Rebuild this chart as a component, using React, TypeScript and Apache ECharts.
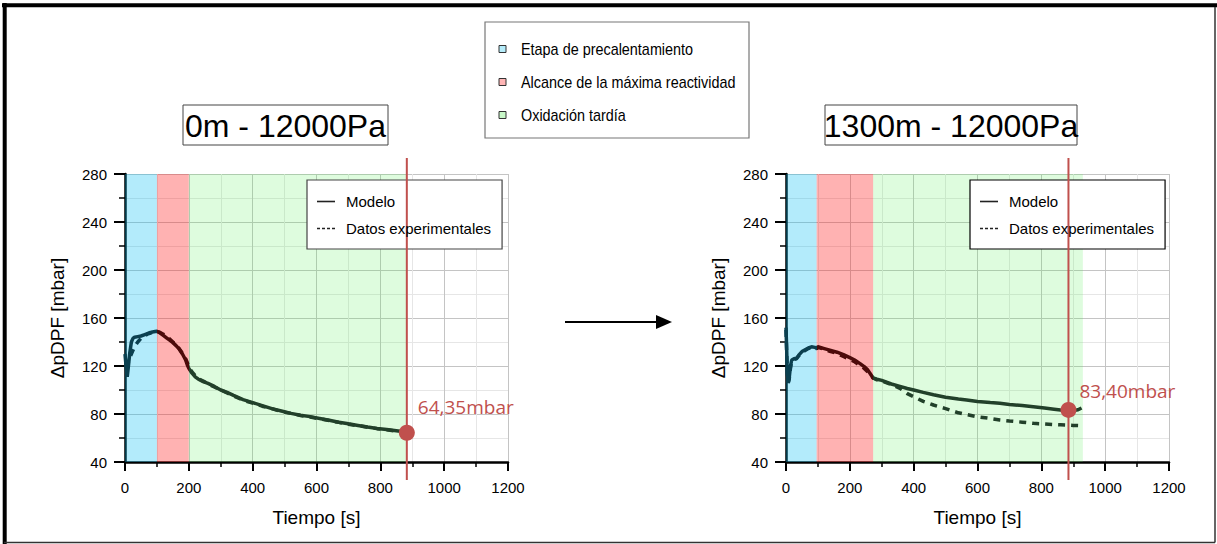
import React, { useEffect, useRef } from 'react';
import * as echarts from 'echarts';

// ---------- data ----------
const phaseNames = ['Etapa de precalentamiento', 'Alcance de la máxima reactividad', 'Oxidación tardía'];
const phaseColors = ['rgba(2,188,242,0.30)', 'rgba(255,30,30,0.34)', 'rgba(90,240,90,0.20)'];
const phaseIconColors = ['#b5ecfa', '#ffb5b5', '#c8f8c8'];

const chartTitles = ['0m - 12000Pa', '1300m - 12000Pa'];
const seriesNames = ['Modelo', 'Datos experimentales'];

const leftPhases = [[0, 100], [100, 200], [200, 883]];
const rightPhases = [[0, 96], [96, 273], [273, 930]];

const leftTime = [0, 4, 7, 10, 15, 20, 25, 30, 40, 50, 60, 70, 80, 90, 100, 110, 120, 130, 140, 150, 160, 170, 180, 190, 195, 200, 210, 220, 230, 245, 260, 280, 300, 320, 340, 370, 400, 430, 460, 490, 520, 550, 580, 610, 640, 670, 700, 730, 760, 790, 820, 850, 880];
const leftModel = [130, 118, 111, 118, 131, 140, 143, 144, 144.5, 145, 146, 147, 148, 148.5, 149, 147.5, 145.5, 143.5, 141.5, 139.5, 137, 134, 130, 125, 121, 118, 114, 111, 109, 107, 105.5, 103, 100, 98, 95.5, 92, 89.5, 87, 84.5, 82.5, 80.5, 79, 77.8, 76.3, 74.8, 73.2, 71.8, 70.5, 69.2, 68, 67, 66, 65];
const leftExp = [121, 120, 121, 123, 127, 130, 133, 136, 140, 143, 145, 146.5, 147.5, 148.5, 149, 148, 146.5, 144.5, 142.5, 140, 137.5, 134.5, 130.5, 126, 123, 119, 115, 112, 109.5, 107.5, 105, 102.5, 100, 97.5, 95, 91.5, 89, 86.5, 84.5, 82, 80.5, 78.8, 77.5, 76, 74.5, 73, 71.5, 70.3, 69, 67.8, 66.8, 65.8, 64.5];

const rightTime = [0, 2, 4, 7, 10, 14, 18, 25, 33, 40, 50, 60, 70, 80, 90, 96, 100, 120, 140, 160, 180, 200, 215, 232, 245, 255, 263, 273, 285, 300, 330, 357, 380, 400, 430, 462, 500, 540, 566, 600, 640, 670, 700, 740, 775, 810, 840, 860, 880, 900, 915, 926];
const rightModel = [152, 135, 115, 106, 110, 120, 125, 126, 126.5, 129, 132, 133.5, 135, 136, 135.5, 135, 136, 134.5, 133, 131.5, 129.5, 127, 125, 122, 119.5, 117, 114, 110, 109, 108, 105, 103, 101.3, 100, 98, 96, 94, 92.5, 91.7, 90.5, 89.5, 88.9, 88, 87, 86, 85, 84, 83.3, 83, 82.8, 83.5, 85];
const rightExp = [150, 132, 114, 106, 109, 118, 124, 125.5, 126, 128.5, 131.5, 133, 134.5, 135.5, 135, 134.5, 135.5, 134, 132, 130.5, 128, 125.5, 123.5, 120.5, 118, 115.5, 113, 110, 108.5, 107.5, 104.5, 101.4, 97, 94.4, 90.5, 87.5, 84.5, 81, 79.5, 77.7, 76.3, 75, 74.2, 73.2, 72.2, 71.7, 71.2, 71, 70.8, 70.5, 70.4, 70.3];

const markers = [
  { t: 883, v: 64.35, label: '64,35mbar', offset: [-2, -26] },
  { t: 885, v: 83.4, label: '83,40mbar', offset: [-2, -19] },
];

const xMin = 0, xMax = 1200, xStep = 200;
const yMin = 40, yMax = 280, yStep = 40;

// ---------- styling ----------
const FONT = 'Liberation Sans, Arial, sans-serif';
const LABEL_FONT = 'Open Sans, sans-serif';
const RED = '#c0504d';
const curveColors = ['#0b4050', '#4d0a0a', '#22402a'];
const SOLID_ICON = 'path://M0,0H18V1.6H0Z';
const DASH_ICON = 'path://M0,0H3V1.6H0Z M5,0H8V1.6H5Z M10,0H13V1.6H10Z M15,0H18V1.6H15Z';

const zip = (t: number[], v: number[]) => t.map((x, i) => [x, v[i]]);

function makeAxes(gi: number) {
  const x = {
    type: 'value', gridIndex: gi, min: xMin, max: xMax, interval: xStep,
    name: 'Tiempo [s]', nameLocation: 'middle', nameGap: 46,
    nameTextStyle: { fontFamily: FONT, fontSize: 19, color: '#000' },
    axisLine: { show: true, onZero: false, lineStyle: { color: '#000', width: 2.5 } },
    axisTick: { show: true, length: 9, lineStyle: { color: '#000', width: 2 } },
    minorTick: { show: true, splitNumber: 2, length: 5, lineStyle: { color: '#000', width: 1.5 } },
    axisLabel: { fontFamily: FONT, fontSize: 15, color: '#000', margin: 18, formatter: (v: number) => String(v) },
    splitLine: { show: true, lineStyle: { color: '#c4c4c4', width: 1 } },
    minorSplitLine: { show: true, lineStyle: { color: '#e6e6e6', width: 1 } },
  };
  const y = {
    type: 'value', gridIndex: gi, min: yMin, max: yMax, interval: yStep,
    name: 'ΔpDPF [mbar]', nameLocation: 'middle', nameGap: 58,
    nameTextStyle: { fontFamily: FONT, fontSize: 19, color: '#000' },
    axisLine: { show: true, onZero: false, lineStyle: { color: '#000', width: 2.5 } },
    axisTick: { show: true, length: 11, lineStyle: { color: '#000', width: 2 } },
    minorTick: { show: true, splitNumber: 2, length: 6, lineStyle: { color: '#000', width: 1.5 } },
    axisLabel: { fontFamily: FONT, fontSize: 15, color: '#000', margin: 18, formatter: (v: number) => String(v) },
    splitLine: { show: true, lineStyle: { color: '#c4c4c4', width: 1 } },
    minorSplitLine: { show: true, lineStyle: { color: '#e6e6e6', width: 1 } },
  };
  return { x, y };
}

function makeSeries(gi: number, time: number[], model: number[], exp: number[], phases: number[][], m: any) {
  return [
    {
      type: 'line', name: seriesNames[0], xAxisIndex: gi, yAxisIndex: gi,
      data: zip(time, model), symbol: 'none', z: 3, color: '#333',
      lineStyle: { width: 3.5, type: 'solid' },
      markArea: {
        silent: true,
        data: phases.map((p, i) => [
          { xAxis: p[0], itemStyle: { color: phaseColors[i] } },
          { xAxis: p[1] },
        ]),
      },
    },
    {
      type: 'line', name: seriesNames[1], xAxisIndex: gi, yAxisIndex: gi,
      data: zip(time, exp), symbol: 'none', z: 3, color: '#333',
      lineStyle: { width: 3.5, type: [7, 6] },
    },
    {
      type: 'scatter', xAxisIndex: gi, yAxisIndex: gi, z: 6,
      data: [[m.t, m.v]], symbolSize: 16,
      itemStyle: { color: RED, opacity: 1 },
      label: {
        show: true, position: 'right', offset: m.offset, formatter: m.label,
        color: RED, fontFamily: LABEL_FONT, fontSize: 19,
      },
    },
  ];
}

function legendFor(left: number, border: string) {
  return {
    show: true, orient: 'vertical', left, top: 180,
    padding: [14, 11, 13, 10], itemGap: 12, itemWidth: 18, itemHeight: 14,
    borderColor: border, borderWidth: 1.2, backgroundColor: '#fff',
    selectedMode: false, symbolKeepAspect: true,
    textStyle: { fontFamily: FONT, fontSize: 15, color: '#000', padding: [0, 0, 0, 6] },
    data: [
      { name: seriesNames[0], icon: SOLID_ICON, itemStyle: { color: '#222', opacity: 1 } },
      { name: seriesNames[1], icon: DASH_ICON, itemStyle: { color: '#222', opacity: 1 } },
    ],
  };
}

function staticGraphics() {
  const g: any[] = [];
  // outer frame
  g.push({ type: 'line', id: 'fTop', shape: { x1: 2, y1: 5.3, x2: 1217, y2: 5.3 }, style: { stroke: '#000', lineWidth: 4 } });
  g.push({ type: 'line', id: 'fLeft', shape: { x1: 4.7, y1: 3, x2: 4.7, y2: 544 }, style: { stroke: '#000', lineWidth: 4 } });
  g.push({ type: 'line', id: 'fRight', shape: { x1: 1215, y1: 7, x2: 1215, y2: 542.5 }, style: { stroke: '#333', lineWidth: 1.5 } });
  g.push({ type: 'line', id: 'fBottom', shape: { x1: 4, y1: 542.5, x2: 1215, y2: 542.5 }, style: { stroke: '#333', lineWidth: 1.5 } });
  // phase legend
  g.push({ type: 'rect', id: 'phBox', shape: { x: 485, y: 22, width: 264, height: 116 }, style: { fill: '#fff', stroke: '#777', lineWidth: 1.2 } });
  const rowY = [49, 82, 115];
  phaseNames.forEach((n, i) => {
    g.push({ type: 'rect', id: 'phIc' + i, shape: { x: 499, y: rowY[i] - 3.5, width: 7, height: 7 }, style: { fill: phaseIconColors[i], stroke: '#333', lineWidth: 1 } });
    g.push({
      type: 'text', id: 'phTx' + i, x: 521, y: rowY[i], scaleX: 0.9,
      style: { text: n, x: 0, y: 0, verticalAlign: 'middle', align: 'left', fontFamily: FONT, fontSize: 16, fill: '#000' },
    });
  });
  // titles
  const boxes = [
    { x: 183, y: 105, w: 205, h: 40 },
    { x: 825, y: 105, w: 252, h: 40 },
  ];
  chartTitles.forEach((t, i) => {
    const b = boxes[i];
    g.push({ type: 'rect', id: 'tb' + i, shape: { x: b.x, y: b.y, width: b.w, height: b.h }, style: { fill: '#fff', stroke: '#444', lineWidth: 1 } });
    g.push({ type: 'text', id: 'tt' + i, style: { text: t, x: b.x + b.w / 2, y: b.y + b.h / 2 + 1, align: 'center', verticalAlign: 'middle', fontFamily: FONT, fontSize: 32, fill: '#000' } });
  });
  // arrow
  g.push({ type: 'line', id: 'arL', shape: { x1: 565, y1: 322, x2: 660, y2: 322 }, style: { stroke: '#000', lineWidth: 2 } });
  g.push({ type: 'polygon', id: 'arH', shape: { points: [[656, 315], [672, 322], [656, 329]] }, style: { fill: '#000' } });
  return g;
}

export default function App() {
  const ref = useRef<HTMLDivElement>(null);
  useEffect(() => {
    if (!ref.current) return;
    const chart = echarts.init(ref.current, null, { renderer: 'svg' });
    const a0 = makeAxes(0);
    const a1 = makeAxes(1);
    const option: any = {
      animation: false,
      backgroundColor: '#fff',
      textStyle: { fontFamily: FONT },
      grid: [
        { left: 125, top: 174, width: 383, height: 288, containLabel: false },
        { left: 786, top: 174, width: 383, height: 288, containLabel: false },
      ],
      xAxis: [a0.x, a1.x],
      yAxis: [a0.y, a1.y],
      legend: [legendFor(307, '#444'), legendFor(970, '#000')],
      visualMap: [
        {
          type: 'piecewise', show: false, dimension: 0, seriesIndex: [0, 1],
          pieces: [
            { lt: leftPhases[0][1], color: curveColors[0] },
            { gte: leftPhases[1][0], lt: leftPhases[1][1], color: curveColors[1] },
            { gte: leftPhases[2][0], color: curveColors[2] },
          ],
        },
        {
          type: 'piecewise', show: false, dimension: 0, seriesIndex: [3, 4],
          pieces: [
            { lt: rightPhases[0][1], color: curveColors[0] },
            { gte: rightPhases[1][0], lt: rightPhases[1][1], color: curveColors[1] },
            { gte: rightPhases[2][0], color: curveColors[2] },
          ],
        },
      ],
      series: [
        ...makeSeries(0, leftTime, leftModel, leftExp, leftPhases, markers[0]),
        ...makeSeries(1, rightTime, rightModel, rightExp, rightPhases, markers[1]),
      ],
      graphic: staticGraphics(),
    };
    chart.setOption(option);
    const vlines = markers.map((m, i) => {
      const top = chart.convertToPixel({ gridIndex: i } as any, [m.t, yMax]) as number[];
      const bot = chart.convertToPixel({ gridIndex: i } as any, [m.t, yMin]) as number[];
      return {
        type: 'line', id: 'vline' + i, z: 4,
        shape: { x1: top[0], y1: top[1] - 16, x2: bot[0], y2: bot[1] + 18 },
        style: { stroke: RED, lineWidth: 2 },
      };
    });
    chart.setOption({ graphic: [...staticGraphics(), ...vlines] });
    return () => chart.dispose();
  }, []);
  return (
    <div
      ref={ref}
      style={{ position: 'fixed', left: 0, top: 0, width: 1217, height: 544, background: '#fff' }}
    />
  );
}
